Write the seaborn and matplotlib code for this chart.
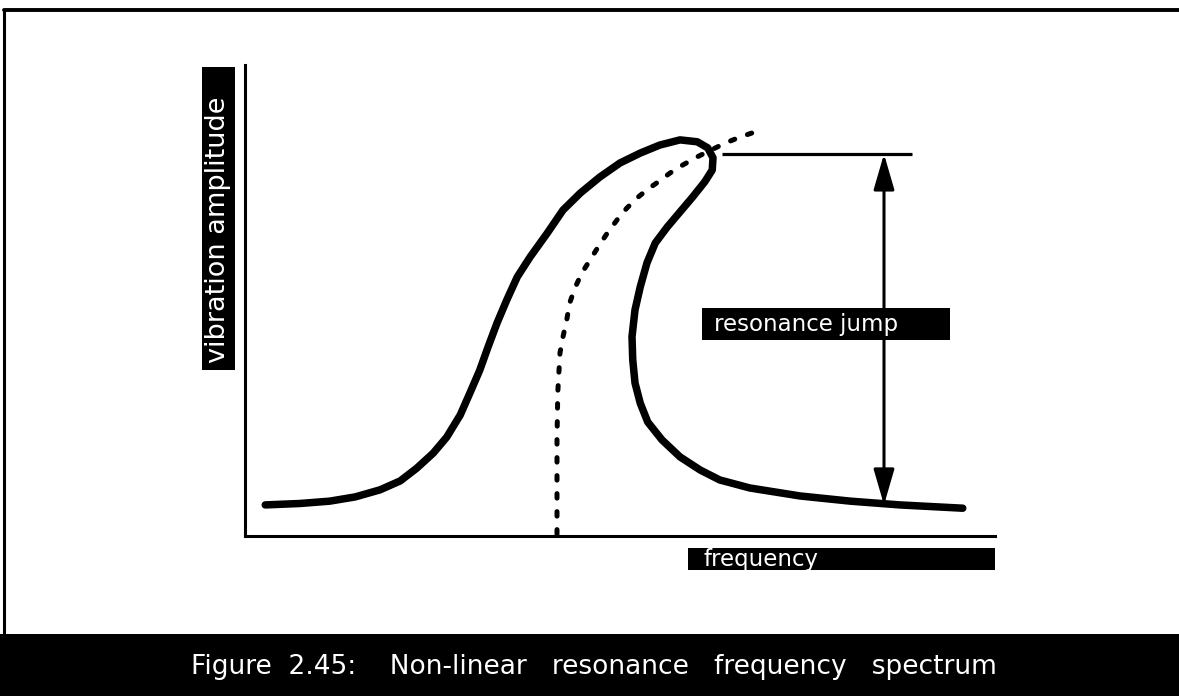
import matplotlib
matplotlib.use("Agg")
import matplotlib.pyplot as plt
from matplotlib.lines import Line2D
from matplotlib.patches import Rectangle
import pandas as pd
import seaborn as sns

# Frequency response of a hardening oscillator
# (including the folded-back branch that causes the jump).
response_freq = [2.7, 7.3, 11.3, 14.7, 18.0, 20.7, 22.9, 25.1, 26.9, 28.7,
                 30.0, 31.3, 32.4, 33.6, 34.9, 36.3, 38.0, 40.3, 42.4, 44.7,
                 47.3, 50.0, 52.7, 55.3, 58.0, 60.3, 61.7, 62.4, 62.3, 61.3,
                 59.7, 58.0, 56.3, 54.7, 53.6, 52.7, 52.0, 51.6, 51.7, 52.0,
                 52.7, 53.7, 55.6, 58.0, 60.7, 63.3, 67.3, 74.0, 80.7, 87.3,
                 95.7]
response_amp = [6.6, 6.9, 7.4, 8.3, 9.8, 11.7, 14.4, 17.6, 21.0, 25.7,
                30.4, 35.2, 40.1, 45.2, 50.1, 55.0, 59.2, 64.3, 69.2, 72.8,
                76.2, 79.2, 81.3, 83.0, 84.1, 83.7, 82.4, 80.3, 77.7, 75.2,
                72.0, 68.8, 65.6, 62.2, 58.0, 52.9, 48.0, 42.3, 37.4, 32.5,
                28.2, 24.2, 20.4, 16.8, 14.0, 11.9, 10.2, 8.5, 7.4, 6.6,
                5.9]

# Backbone curve (resonance frequency shifting with amplitude)
backbone_freq = [41.6, 41.6, 41.6, 41.7, 42.0, 42.4, 42.9, 43.3, 44.0, 44.9,
                 46.0, 47.1, 48.3, 49.6, 50.9, 52.3, 53.6, 55.1, 56.7, 58.4,
                 60.3, 64.0, 66.0, 68.4]
backbone_amp = [0.4, 11.9, 20.4, 30.4, 38.9, 42.3, 45.9, 49.5, 52.7, 55.8,
                58.6, 61.4, 64.3, 67.1, 69.6, 71.8, 73.5, 75.2, 77.1, 78.8,
                80.5, 83.4, 84.7, 86.0]

# Jump between the upper turning point and the lower branch
jump_freq = 85.2
jump_top = 81.1
jump_bottom = 6.6
jump_line_start = 63.6
jump_line_end = 88.9

y_label = "vibration amplitude"
x_label = "frequency"
jump_label = "resonance jump"
caption = "Figure  2.45:    Non-linear   resonance   frequency   spectrum"

sns.set_style("white")
plt.rcParams["font.family"] = ["DejaVu Sans"]

fig = plt.figure(figsize=(11.79, 6.96), dpi=100)
ax = fig.add_axes([245 / 1179, 160 / 696, 750 / 1179, 471 / 696])
ax.set_xlim(0, 100)
ax.set_ylim(0, 100)

resp = pd.DataFrame({"freq": response_freq, "amp": response_amp})
back = pd.DataFrame({"freq": backbone_freq, "amp": backbone_amp})

sns.lineplot(data=resp, x="freq", y="amp", sort=False, estimator=None,
             color="black", linewidth=5.4, solid_capstyle="round",
             solid_joinstyle="round", ax=ax)
sns.lineplot(data=back, x="freq", y="amp", sort=False, estimator=None,
             color="black", linewidth=3.6, linestyle=(0, (0.9, 2.7)),
             dash_capstyle="round", ax=ax)

# Upper reference line and double-headed jump arrow
ax.plot([jump_line_start, jump_line_end], [jump_top, jump_top],
        color="black", linewidth=2.3, solid_capstyle="butt")
ax.annotate("", xy=(jump_freq, jump_bottom), xytext=(jump_freq, jump_top),
            arrowprops=dict(arrowstyle="<|-|>,head_length=1.1,head_width=0.32",
                            mutation_scale=20, lw=2.2, color="black",
                            shrinkA=0, shrinkB=0))

# Black label boxes with white text
ax.add_patch(Rectangle((60.9, 41.6), 33.1, 6.8, facecolor="black",
                       edgecolor="none", zorder=5))
ax.text(62.6, 45.0, jump_label, color="white", fontsize=16.5,
        va="center", ha="left", zorder=6)

ax.add_patch(Rectangle((59.1, -7.2), 40.9, 4.7, facecolor="black",
                       edgecolor="none", zorder=5, clip_on=False))
ax.text(61.1, -4.9, x_label, color="white", fontsize=16.5,
        va="center", ha="left", zorder=6, clip_on=False)

ax.add_patch(Rectangle((-5.7, 35.2), 4.4, 64.4, facecolor="black",
                       edgecolor="none", zorder=5, clip_on=False))
ax.text(-3.55, 36.8, y_label, color="white", fontsize=19.5, rotation=90,
        va="bottom", ha="center", zorder=6, clip_on=False)

ax.set_xlabel("")
ax.set_ylabel("")
ax.set_xticks([])
ax.set_yticks([])
for side in ("top", "right"):
    ax.spines[side].set_visible(False)
for side in ("left", "bottom"):
    ax.spines[side].set_color("black")
    ax.spines[side].set_linewidth(2.2)

# Page frame and caption banner
fig.add_artist(Line2D([0.003, 1.0], [1 - 10 / 696, 1 - 10 / 696],
                      color="black", linewidth=2.8,
                      transform=fig.transFigure))
fig.add_artist(Line2D([0.0035, 0.0035], [62 / 696, 1 - 10 / 696],
                      color="black", linewidth=2.2,
                      transform=fig.transFigure))
fig.add_artist(Rectangle((0, 0), 1, 62 / 696, facecolor="black",
                         edgecolor="none", transform=fig.transFigure))
fig.text(0.504, 29 / 696, caption, color="white", fontsize=19,
         ha="center", va="center")

fig.savefig("out.png", dpi=100, facecolor="white")
